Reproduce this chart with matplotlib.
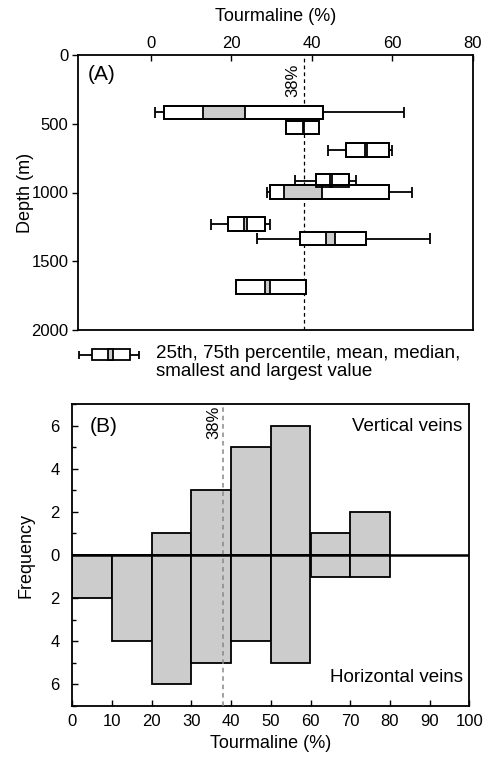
import matplotlib
matplotlib.use("Agg")
import matplotlib.pyplot as plt
from matplotlib.ticker import FuncFormatter, MultipleLocator

plt.rcParams['font.family'] = ['Liberation Sans', 'DejaVu Sans']

# ---- Panel A data (tourmaline %, depth m) ----
depth = [418, 527, 692, 913, 998, 1230, 1336, 1686]
whis_lo = [1.2, 33.5, 44.1, 35.9, 29.0, 15.0, 26.5, 21.1]
q1 = [3.3, 33.5, 48.5, 41.1, 29.6, 19.1, 37.0, 21.1]
mean = [13.1, 37.8, 53.3, 44.6, 33.1, 23.3, 43.5, 28.5]
median = [23.4, 38.0, 53.8, 44.9, 42.6, 24.0, 45.7, 29.7]
q3 = [42.9, 41.7, 59.2, 49.3, 59.2, 28.3, 53.5, 38.5]
whis_hi = [63.0, 41.7, 59.8, 50.9, 64.8, 29.6, 69.3, 38.5]

# ---- Panel B data (histogram, bins of 10 %) ----
bin_left = [0, 10, 20, 30, 40, 50, 60, 70]
vertical = [0, 0, 1, 3, 5, 6, 1, 2]
horizontal = [2, 4, 6, 5, 4, 5, 1, 1]

threshold = 38

W, H = 485, 758
fig = plt.figure(figsize=(W / 100, H / 100), dpi=100)

GRAY = '#cccccc'
LW = 1.3
FS_TICK = 12
FS_LAB = 13
FS_TXT = 13.5
FS_TAG = 15

# ================= Panel A =================
axA = fig.add_axes([78 / W, 1 - 330 / H, 395 / W, 275 / H])
axA.set_xlim(-18, 80)
axA.set_ylim(2000, 0)
bh = 98
for i in range(len(depth)):
    d = depth[i]
    axA.hlines(d, whis_lo[i], q1[i], color='k', lw=LW, zorder=2)
    axA.hlines(d, q3[i], whis_hi[i], color='k', lw=LW, zorder=2)
    if whis_lo[i] < q1[i]:
        axA.vlines(whis_lo[i], d - bh * 0.4, d + bh * 0.4, color='k', lw=LW, zorder=2)
    if whis_hi[i] > q3[i]:
        axA.vlines(whis_hi[i], d - bh * 0.4, d + bh * 0.4, color='k', lw=LW, zorder=2)
    axA.barh(d, q3[i] - q1[i], left=q1[i], height=bh, color='white',
             edgecolor='k', lw=LW, zorder=3)
    lo, hi = min(mean[i], median[i]), max(mean[i], median[i])
    axA.barh(d, hi - lo, left=lo, height=bh, color=GRAY, edgecolor='k',
             lw=LW, zorder=4)
    axA.barh(d, q3[i] - q1[i], left=q1[i], height=bh, fill=False,
             edgecolor='k', lw=LW, zorder=5)

axA.axvline(threshold, color='k', lw=0.9, ls=(0, (3, 2.5)), zorder=1)
axA.text(threshold - 0.8, 60, '38%', rotation=90, ha='right', va='top',
         fontsize=FS_TICK)
axA.text(-15.5, 140, '(A)', fontsize=FS_TAG, ha='left', va='center')

axA.xaxis.set_ticks_position('top')
axA.xaxis.set_label_position('top')
axA.set_xticks([0, 20, 40, 60, 80])
axA.set_yticks([0, 500, 1000, 1500, 2000])
axA.tick_params(axis='x', direction='in', length=4, width=1, labelsize=FS_TICK, pad=3)
axA.tick_params(axis='y', direction='out', length=4, width=1, labelsize=FS_TICK, pad=3)
axA.set_xlabel('Tourmaline (%)', fontsize=FS_LAB, va='center')
axA.xaxis.set_label_coords(0.5, 1.139)
axA.set_ylabel('Depth (m)', fontsize=FS_LAB, va='center')
axA.yaxis.set_label_coords(-0.134, 0.5)
for s in axA.spines.values():
    s.set_linewidth(LW)

# ---- legend symbol ----
axL = fig.add_axes([76 / W, 1 - 363 / H, 66 / W, 16 / H])
axL.set_xlim(76, 142)
axL.set_ylim(-8, 8)
axL.axis('off')
axL.hlines(0, 79, 92, color='k', lw=LW)
axL.hlines(0, 130, 139, color='k', lw=LW)
axL.vlines([79, 139], -4, 4, color='k', lw=LW)
axL.barh(0, 38, left=92, height=11, color='white', edgecolor='k', lw=LW)
axL.barh(0, 5.5, left=108, height=11, color=GRAY, edgecolor='k', lw=LW)
fig.text(156 / W, 1 - 353 / H, '25th, 75th percentile, mean, median,',
         fontsize=FS_TXT, va='center', ha='left')
fig.text(156 / W, 1 - 371 / H, 'smallest and largest value',
         fontsize=FS_TXT, va='center', ha='left')

# ================= Panel B =================
axB = fig.add_axes([72.3 / W, 1 - 705.7 / H, 397 / W, 301.4 / H])
axB.set_xlim(0, 100)
axB.set_ylim(-7, 7)
axB.bar(bin_left, vertical, width=10, align='edge', color=GRAY,
        edgecolor='k', lw=LW, zorder=2)
axB.bar(bin_left, [-v for v in horizontal], width=10, align='edge',
        color=GRAY, edgecolor='k', lw=LW, zorder=2)
axB.axhline(0, color='k', lw=1.8, zorder=4)
axB.axvline(threshold, color='#888888', lw=1.1, ls=(0, (3, 2.5)), zorder=3)
axB.text(threshold - 0.5, 6.95, '38%', rotation=90, ha='right', va='top',
         fontsize=FS_TICK)
axB.text(4.5, 5.95, '(B)', fontsize=FS_TAG, ha='left', va='center')
axB.text(98.3, 5.95, 'Vertical veins', fontsize=FS_TXT, ha='right', va='center')
axB.text(98.3, -5.68, 'Horizontal veins', fontsize=FS_TXT, ha='right', va='center')

axB.set_xticks(range(0, 101, 10))
axB.set_yticks([-6, -4, -2, 0, 2, 4, 6])
axB.yaxis.set_minor_locator(MultipleLocator(1))
axB.yaxis.set_major_formatter(FuncFormatter(lambda v, p: f"{abs(int(round(v)))}"))
axB.tick_params(axis='both', which='both', direction='in', labelsize=FS_TICK)
axB.tick_params(axis='both', which='major', length=4, width=1)
axB.tick_params(axis='y', which='minor', length=3, width=1)
axB.tick_params(axis='y', which='major', pad=9)
axB.tick_params(axis='x', which='major', pad=6)
axB.set_xlabel('Tourmaline (%)', fontsize=FS_LAB, va='center')
axB.xaxis.set_label_coords(0.5, -0.124)
axB.set_ylabel('Frequency', fontsize=FS_LAB, va='center')
axB.yaxis.set_label_coords(-0.1166, 0.5)
for s in axB.spines.values():
    s.set_linewidth(LW)

fig.savefig('out.png', dpi=100)
